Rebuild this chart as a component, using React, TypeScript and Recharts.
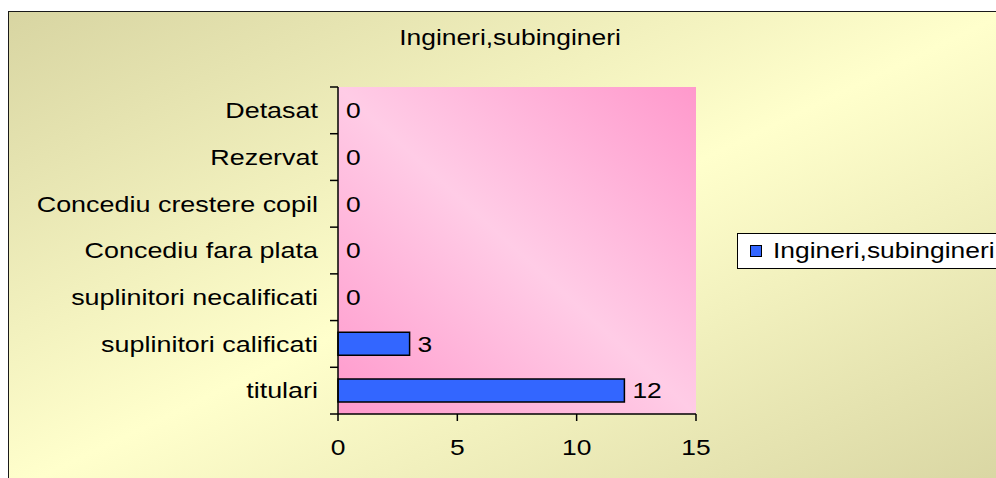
import React from 'react';
import * as R from 'recharts';
import { ComposedChart, Bar, Scatter, XAxis, YAxis, CartesianGrid, Legend, LabelList } from 'recharts';

const categories = [
  'Detasat',
  'Rezervat',
  'Concediu crestere copil',
  'Concediu fara plata',
  'suplinitori necalificati',
  'suplinitori calificati',
  'titulari',
];
const values = [0, 0, 0, 0, 0, 3, 12];
const xTicks = [0, 5, 10, 15];
const seriesName = 'Ingineri,subingineri';
const chartTitle = 'Ingineri,subingineri';

const FONT = '"Liberation Sans", Arial, sans-serif';
const FS = 22;
const SX = 1.2; // the source text is drawn a bit wide
const EDGE_TICK = 8;

const data = categories.map((name, i) => ({ name, value: values[i] }));

const noHook = () => null;
const usePlotAreaSafe: () => any = (R as any).usePlotArea ?? noHook;

// Excel puts the category tick marks on the band edges; read the plot area from the chart
const BandEdgeTicks = () => {
  const plot = usePlotAreaSafe();
  if (!plot || !Number.isFinite(plot.height)) return null;
  const band = plot.height / categories.length;
  return (
    <g>
      {Array.from({ length: categories.length + 1 }, (_, i) => (
        <line
          key={i}
          x1={plot.x - EDGE_TICK}
          x2={plot.x}
          y1={plot.y + i * band}
          y2={plot.y + i * band}
          stroke="#000"
          strokeWidth={1.5}
        />
      ))}
    </g>
  );
};

const CategoryTick = (props: any) => {
  const { x, y, payload } = props;
  return (
    <g transform={`translate(${x},${y}) scale(${SX * 1.02},1)`}>
      <text x={0} y={0} dy="0.355em" textAnchor="end" fontFamily={FONT} fontSize={FS} fill="#000">
        {payload.value}
      </text>
    </g>
  );
};

const ValueTick = (props: any) => {
  const { x, y, payload } = props;
  return (
    <g transform={`translate(${x},${y}) scale(${SX},1)`}>
      <text x={0} y={0} dy="0.71em" textAnchor="middle" fontFamily={FONT} fontSize={FS} fill="#000">
        {payload.value}
      </text>
    </g>
  );
};

// value label to the right of the bar end
const BarValue = (props: any) => {
  const { x, y, width, height, value } = props;
  const lx = Number(x) + Number(width) / 2 + 8;
  const ly = Number(y) + Number(height) / 2;
  return (
    <g transform={`translate(${lx},${ly}) scale(${SX},1)`}>
      <text x={0} y={0} dy="0.355em" textAnchor="start" fontFamily={FONT} fontSize={FS} fill="#000">
        {value}
      </text>
    </g>
  );
};

const LegendBox = () => (
  <div
    style={{
      boxSizing: 'border-box',
      height: 36,
      width: 270,
      border: '1px solid #000',
      background: '#fff',
      display: 'flex',
      alignItems: 'center',
      paddingLeft: 12,
    }}
  >
    <span
      style={{
        display: 'inline-block',
        width: 12,
        height: 12,
        background: '#3366ff',
        border: '1px solid #000',
        boxSizing: 'border-box',
        marginRight: 11,
      }}
    />
    <span
      style={{
        fontFamily: FONT,
        fontSize: FS,
        color: '#000',
        display: 'inline-block',
        transform: `scaleX(${SX})`,
        transformOrigin: 'left center',
        whiteSpace: 'nowrap',
        lineHeight: '22px',
      }}
    >
      {seriesName}
    </span>
  </div>
);

export default function App() {
  return (
    <div style={{ position: 'absolute', left: 0, top: 0, width: 996, height: 478, overflow: 'hidden' }}>
      <div
        style={{
          position: 'absolute',
          left: 8,
          top: 11,
          width: 1000,
          height: 480,
          borderLeft: '1.5px solid #1a1a1a',
          borderTop: '1.5px solid #1a1a1a',
          background: 'linear-gradient(to bottom right, #d8d5a2 0%, #ffffcc 50%, #d8d5a2 100%)',
        }}
      />
      <div
        style={{
          position: 'absolute',
          left: 310,
          top: 27,
          width: 400,
          textAlign: 'center',
          fontFamily: FONT,
          fontSize: FS,
          lineHeight: '22px',
          color: '#000',
          transform: `scaleX(${SX})`,
        }}
      >
        {chartTitle}
      </div>
      <div style={{ position: 'absolute', left: 0, top: 0 }}>
        <ComposedChart
          width={996}
          height={478}
          data={data}
          layout="vertical"
          margin={{ top: 87, right: 300, bottom: 24, left: 8 }}
          barCategoryGap="25%"
        >
          <defs>
            <linearGradient id="plotBg" x1="0" y1="1" x2="1" y2="0">
              <stop offset="0%" stopColor="#ff99cc" />
              <stop offset="50%" stopColor="#ffcce6" />
              <stop offset="100%" stopColor="#ff99cc" />
            </linearGradient>
          </defs>
          <CartesianGrid horizontal={false} vertical={false} fill="url(#plotBg)" fillOpacity={1} />
          <XAxis
            type="number"
            dataKey="value"
            domain={[0, 15]}
            ticks={xTicks}
            interval={0}
            height={40}
            axisLine={{ stroke: '#000', strokeWidth: 1.5 }}
            tickLine={{ stroke: '#000', strokeWidth: 1.5 }}
            tickSize={7}
            tickMargin={18}
            tick={<ValueTick />}
          />
          <YAxis
            type="category"
            dataKey="name"
            width={330}
            axisLine={{ stroke: '#000', strokeWidth: 1.5 }}
            tickLine={false}
            tickSize={0}
            tickMargin={20}
            interval={0}
            tick={<CategoryTick />}
          />
          <BandEdgeTicks />
          <Legend
            layout="vertical"
            align="center"
            verticalAlign="middle"
            wrapperStyle={{ left: 737, top: 233, width: 270 }}
            content={<LegendBox />}
          />
          <Bar
            dataKey="value"
            name={seriesName}
            fill="#3366ff"
            stroke="#000"
            strokeWidth={1.5}
            isAnimationActive={false}
          />
          <Scatter
            dataKey="value"
            legendType="none"
            shape={() => <g />}
            isAnimationActive={false}
          >
            <LabelList dataKey="value" content={<BarValue />} />
          </Scatter>
        </ComposedChart>
      </div>
    </div>
  );
}
